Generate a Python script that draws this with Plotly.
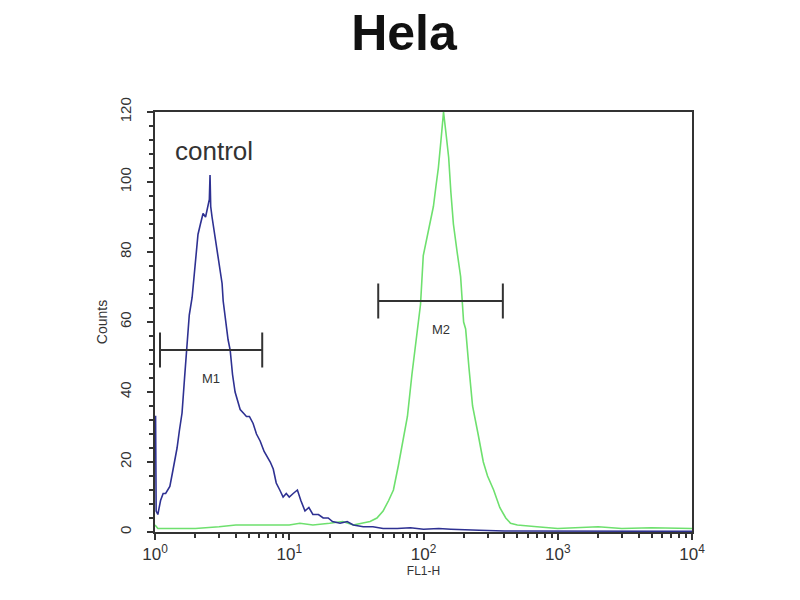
import math
import plotly.graph_objects as go

# Data
control_x = [1.00, 1.01, 1.02, 1.05, 1.10, 1.15, 1.20, 1.25, 1.29, 1.35, 1.40, 1.46, 1.52, 1.59, 1.66,
             1.73, 1.80, 1.89, 1.95, 2.02, 2.09, 2.18, 2.28, 2.38, 2.49, 2.54, 2.57, 2.60, 2.66, 2.78,
             2.90, 3.05, 3.16, 3.22, 3.35, 3.50, 3.63, 3.78, 3.95, 4.10, 4.31, 4.55, 4.80, 5.05, 5.38,
             5.70, 6.07, 6.50, 7.22, 7.60, 8.00, 8.50, 9.00, 9.50, 10.0, 10.7, 11.5, 12.2, 13.1, 14.0,
             15.0, 16.5, 17.9, 19.5, 21.0, 23.9, 27.0, 30.0, 35.6, 42.0, 50.0, 63.7, 80, 100, 130,
             160, 200, 260, 400, 700, 1000, 2000, 5000, 10000]
control_y = [33, 33, 6, 5, 9, 11, 11, 12, 13, 17, 20, 24, 29, 34, 44,
             53, 62, 67, 73, 78, 85, 88, 91, 90, 93, 95, 102, 93, 90, 85,
             81, 75, 71, 66, 60, 55, 52, 45, 40, 38, 35, 34, 33, 33, 31,
             28, 26, 23, 20, 18, 14, 12, 10, 11, 10, 11, 12, 9, 6, 7,
             5, 5, 4, 4, 3, 2.5, 3, 2, 1.5, 1.5, 1, 1, 1.2, 0.8, 1,
             0.8, 0.6, 0.5, 0.3, 0.3, 0.2, 0.2, 0.2, 0.2]

sample_x = [1.00, 1.05, 1.5, 2, 3, 4, 5, 6, 8, 10, 12, 15, 20, 25, 30, 35, 40, 45, 50, 55,
            59.7, 65, 70, 75.9, 82, 90, 95, 99.6, 105, 112, 118.5, 124, 129, 135, 141, 147, 154,
            160, 167, 178, 189, 199, 206, 218, 232, 255, 279, 300, 333, 370, 410, 445, 500, 700,
            1000, 2000, 3000, 5000, 10000]
sample_y = [2, 1, 1, 1, 1.5, 2, 2, 2, 2, 2, 2.5, 2, 2.5, 3, 2, 2.5, 3, 4, 6, 9,
            12, 19, 26, 33, 45, 58, 65, 79, 83, 88, 93, 99, 104, 112, 120, 114, 107,
            97, 88, 80, 73, 60, 58, 47, 36, 28, 20, 16, 12, 7, 4, 2.5, 2, 1.5,
            1, 1.5, 1, 1.2, 1]

m1_range = [1.09, 6.29]
m1_level = 52
m1_label = (2.6, 44)
m2_range = [46, 390]
m2_level = 66
m2_label = (136, 58)
control_label = (2.75, 109)

x_tickvals = [1, 10, 100, 1000, 10000]
x_ticktext = ["10<sup>0</sup>", "10<sup>1</sup>", "10<sup>2</sup>", "10<sup>3</sup>", "10<sup>4</sup>"]
x_minor = [m * d for d in [1, 10, 100, 1000] for m in range(2, 10)]
y_tickvals = [0, 20, 40, 60, 80, 100, 120]

FONT = "Liberation Sans, Arial, sans-serif"
BLUE = "#2e3192"
GREEN = "#6ee06e"
DARK = "#333333"

fig = go.Figure()
fig.add_trace(go.Scatter(x=sample_x, y=sample_y, mode="lines",
                         line=dict(color=GREEN, width=1.6), showlegend=False))
fig.add_trace(go.Scatter(x=control_x, y=control_y, mode="lines",
                         line=dict(color=BLUE, width=1.6), showlegend=False))

# Marker gates
for rng, lvl, name, lab in [(m1_range, m1_level, "M1", m1_label), (m2_range, m2_level, "M2", m2_label)]:
    fig.add_trace(go.Scatter(x=rng, y=[lvl, lvl], mode="lines",
                             line=dict(color=DARK, width=2), showlegend=False))
    for xv in rng:
        fig.add_trace(go.Scatter(x=[xv, xv], y=[lvl - 5, lvl + 5], mode="lines",
                                 line=dict(color=DARK, width=2), showlegend=False))
    fig.add_annotation(x=math.log10(lab[0]), y=lab[1], text=name, showarrow=False,
                       font=dict(family=FONT, size=13, color=DARK))

fig.add_annotation(x=math.log10(control_label[0]), y=control_label[1], text="control", showarrow=False,
                   font=dict(family=FONT, size=26, color=DARK))

fig.update_layout(
    width=792, height=592,
    paper_bgcolor="white", plot_bgcolor="white",
    margin=dict(l=147, r=108, t=104, b=68),
    title=dict(text="<b>Hela</b>", x=0.5, xanchor="center", y=0.958, yanchor="middle",
               font=dict(family=FONT, size=50, color="#111111")),
    xaxis=dict(type="log", range=[0, 4], tickvals=x_tickvals, ticktext=x_ticktext,
               automargin=False,
               ticks="outside", ticklen=6, tickwidth=2, tickcolor=DARK,
               minor=dict(tickvals=x_minor, ticks="outside", ticklen=4, tickwidth=1.5, tickcolor=DARK),
               showline=True, linecolor=DARK, linewidth=2, mirror=True,
               showgrid=False, zeroline=False,
               tickfont=dict(family=FONT, size=17, color=DARK),
               title=dict(text="FL1-H", font=dict(family=FONT, size=12, color=DARK), standoff=2)),
    yaxis=dict(range=[0, 120], tickvals=y_tickvals, tickangle=-90,
               automargin=False, ticklabelstandoff=10,
               ticks="outside", ticklen=6, tickwidth=2, tickcolor=DARK,
               minor=dict(dtick=4, ticks="outside", ticklen=4, tickwidth=1.5, tickcolor=DARK),
               showline=True, linecolor=DARK, linewidth=2, mirror=True,
               showgrid=False, zeroline=False,
               tickfont=dict(family=FONT, size=15, color=DARK),
               title=dict(text="Counts", font=dict(family=FONT, size=14, color=DARK), standoff=6)),
)

fig.write_html("out.html")
